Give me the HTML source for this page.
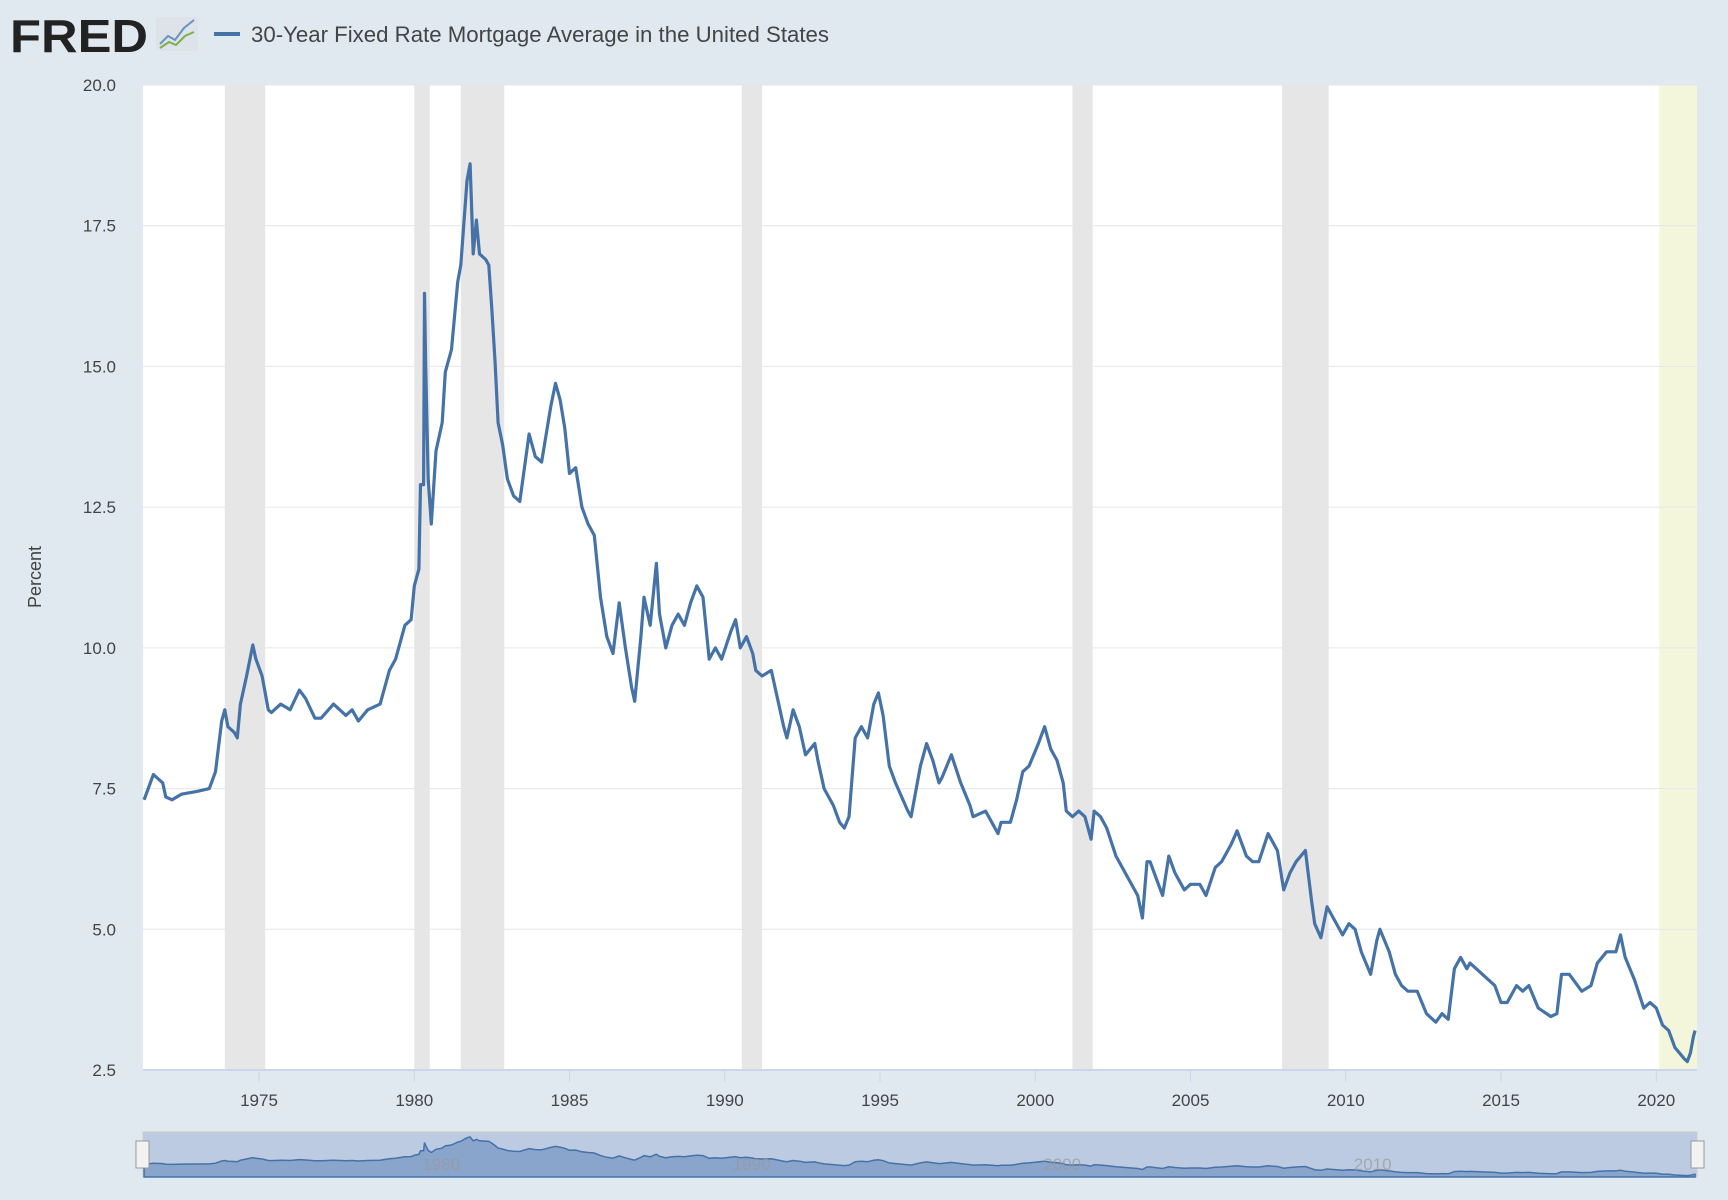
<!DOCTYPE html>
<html><head><meta charset="utf-8"><style>
html,body{margin:0;padding:0;width:1728px;height:1200px;background:#e1e9f0;overflow:hidden;font-family:"Liberation Sans",sans-serif;}
svg{display:block}
</style></head><body>
<svg id="chart" width="1728" height="1200" xmlns="http://www.w3.org/2000/svg">
  <g>
    <text x="10" y="52" font-size="46" font-weight="bold" fill="#222" textLength="138" lengthAdjust="spacingAndGlyphs" font-family="Liberation Sans, sans-serif">FRED</text>
    <rect x="156" y="17" width="42" height="34" rx="3" fill="#dde3e8"/>
    <polyline points="160,44 168,36 175,40 184,28 194,20" fill="none" stroke="#6a93c0" stroke-width="2"/>
    <polyline points="160,48 169,42 176,45 185,36 194,32" fill="none" stroke="#7ab04c" stroke-width="2"/>
  </g>
  <line x1="214" y1="34" x2="240" y2="34" stroke="#4572a7" stroke-width="4"/>
  <text x="251" y="42" font-size="22" fill="#444" textLength="578" lengthAdjust="spacingAndGlyphs">30-Year Fixed Rate Mortgage Average in the United States</text>
  <rect x="143" y="85" width="1554" height="985" fill="#fff"/>
  <g id="rec"></g>
  <g id="grid"></g>
  <g id="xaxis"></g>
  <path id="line" fill="none" stroke="#4572a7" stroke-width="3.2" stroke-linejoin="round"/>
  <text transform="translate(41,577) rotate(-90)" text-anchor="middle" font-size="18" fill="#444">Percent</text>
  <g>
    <rect x="143" y="1132" width="1554" height="45" fill="#bccbe1" stroke="#ccc"/>
    <path id="navarea" fill="#8aa5cc" stroke="#4572a7" stroke-width="1.5"/>
    <g id="navlabels"></g>
    <rect x="136" y="1141" width="13" height="27" fill="#f2f2f2" stroke="#999"/>
    <rect x="1691" y="1141" width="13" height="27" fill="#f2f2f2" stroke="#999"/>
  </g>
</svg>
<script>
const years=[1971.3,1971.5,1971.6,1971.9,1972.0,1972.2,1972.5,1973.0,1973.4,1973.6,1973.8,1973.9,1974.0,1974.2,1974.3,1974.4,1974.6,1974.8,1974.9,1975.1,1975.3,1975.4,1975.7,1976.0,1976.3,1976.5,1976.8,1977.0,1977.4,1977.8,1978.0,1978.2,1978.5,1978.9,1979.2,1979.4,1979.7,1979.9,1980.0,1980.15,1980.2,1980.3,1980.33,1980.37,1980.45,1980.55,1980.7,1980.9,1981.0,1981.2,1981.4,1981.5,1981.7,1981.8,1981.9,1982.0,1982.1,1982.3,1982.4,1982.5,1982.6,1982.7,1982.85,1983.0,1983.2,1983.4,1983.5,1983.7,1983.9,1984.1,1984.4,1984.55,1984.7,1984.85,1985.0,1985.2,1985.4,1985.6,1985.8,1986.0,1986.2,1986.4,1986.6,1986.8,1987.0,1987.1,1987.3,1987.4,1987.6,1987.8,1987.9,1988.1,1988.3,1988.5,1988.7,1988.9,1989.1,1989.3,1989.5,1989.7,1989.9,1990.2,1990.35,1990.5,1990.7,1990.9,1991.0,1991.2,1991.5,1991.7,1991.9,1992.0,1992.2,1992.4,1992.6,1992.9,1993.0,1993.2,1993.5,1993.7,1993.85,1994.0,1994.2,1994.4,1994.6,1994.8,1994.95,1995.1,1995.3,1995.5,1995.9,1996.0,1996.3,1996.5,1996.7,1996.9,1997.0,1997.3,1997.6,1997.9,1998.0,1998.4,1998.8,1998.9,1999.2,1999.4,1999.6,1999.8,2000.1,2000.3,2000.5,2000.7,2000.9,2001.0,2001.2,2001.4,2001.6,2001.8,2001.9,2002.1,2002.3,2002.6,2002.8,2003.0,2003.3,2003.45,2003.6,2003.7,2003.9,2004.1,2004.3,2004.5,2004.8,2005.0,2005.3,2005.5,2005.8,2006.0,2006.3,2006.5,2006.8,2007.0,2007.2,2007.5,2007.8,2008.0,2008.2,2008.4,2008.7,2008.9,2009.0,2009.2,2009.4,2009.6,2009.9,2010.1,2010.3,2010.5,2010.8,2011.0,2011.1,2011.4,2011.6,2011.8,2012.0,2012.3,2012.6,2012.9,2013.1,2013.3,2013.5,2013.7,2013.9,2014.0,2014.4,2014.8,2015.0,2015.2,2015.5,2015.7,2015.9,2016.2,2016.6,2016.8,2016.95,2017.2,2017.6,2017.9,2018.1,2018.4,2018.7,2018.85,2019.0,2019.3,2019.6,2019.8,2020.0,2020.2,2020.4,2020.6,2020.9,2021.0,2021.1,2021.2,2021.25];
const rates=[7.3,7.6,7.75,7.6,7.35,7.3,7.4,7.45,7.5,7.8,8.7,8.9,8.6,8.5,8.4,9.0,9.5,10.05,9.8,9.5,8.9,8.85,9.0,8.9,9.25,9.1,8.75,8.75,9.0,8.8,8.9,8.7,8.9,9.0,9.6,9.8,10.4,10.5,11.1,11.4,12.9,12.9,16.3,15.0,13.0,12.2,13.5,14.0,14.9,15.3,16.5,16.8,18.3,18.6,17.0,17.6,17.0,16.9,16.8,16.0,15.1,14.0,13.6,13.0,12.7,12.6,13.0,13.8,13.4,13.3,14.3,14.7,14.4,13.9,13.1,13.2,12.5,12.2,12.0,10.9,10.2,9.9,10.8,10.0,9.3,9.05,10.2,10.9,10.4,11.5,10.6,10.0,10.4,10.6,10.4,10.8,11.1,10.9,9.8,10.0,9.8,10.3,10.5,10.0,10.2,9.9,9.6,9.5,9.6,9.1,8.6,8.4,8.9,8.6,8.1,8.3,8.0,7.5,7.2,6.9,6.8,7.0,8.4,8.6,8.4,9.0,9.2,8.8,7.9,7.6,7.1,7.0,7.9,8.3,8.0,7.6,7.7,8.1,7.6,7.2,7.0,7.1,6.7,6.9,6.9,7.3,7.8,7.9,8.3,8.6,8.2,8.0,7.6,7.1,7.0,7.1,7.0,6.6,7.1,7.0,6.8,6.3,6.1,5.9,5.6,5.2,6.2,6.2,5.9,5.6,6.3,6.0,5.7,5.8,5.8,5.6,6.1,6.2,6.5,6.75,6.3,6.2,6.2,6.7,6.4,5.7,6.0,6.2,6.4,5.5,5.1,4.85,5.4,5.2,4.9,5.1,5.0,4.6,4.2,4.8,5.0,4.6,4.2,4.0,3.9,3.9,3.5,3.35,3.5,3.4,4.3,4.5,4.3,4.4,4.2,4.0,3.7,3.7,4.0,3.9,4.0,3.6,3.45,3.5,4.2,4.2,3.9,4.0,4.4,4.6,4.6,4.9,4.5,4.1,3.6,3.7,3.6,3.3,3.2,2.9,2.7,2.65,2.8,3.1,3.2];
const yTicks=[2.5,5.0,7.5,10.0,12.5,15.0,17.5,20.0];
const xTicks=[1975,1980,1985,1990,1995,2000,2005,2010,2015,2020];
const navTicks=[1980,1990,2000,2010];
const recStart=[1973.9,1980.0,1981.5,1990.55,2001.2,2007.95,2020.1];
const recEnd=[1975.2,1980.5,1982.9,1991.2,2001.85,2009.45,2020.3];

const NS='http://www.w3.org/2000/svg';
const X=y=>259+(y-1975)*31.05;
const Y=v=>1070-(v-2.5)*(985/17.5);
const NY=v=>1176-(v-2.5)*(40/16.5);
function mk(tag,attrs,parent){const e=document.createElementNS(NS,tag);for(const k in attrs)e.setAttribute(k,attrs[k]);parent.appendChild(e);return e;}

const rec=document.getElementById('rec');
recStart.forEach((s,i)=>{
  const last=i===recStart.length-1;
  const r=mk('rect',{x:X(s),y:85,width:last?1697-X(s):X(recEnd[i])-X(s),height:985,fill:last?'#f4f6dc':'#e6e6e6'},rec);
  
  
});
const grid=document.getElementById('grid');
yTicks.forEach(v=>{
  const l=mk('line',{x1:143,x2:1697,y1:Y(v),y2:Y(v),stroke:v===2.5?'#ccd6eb':'#e6e6e6','stroke-width':v===2.5?2:1},grid);
  
  
  const t=mk('text',{x:116,y:Y(v)+6,'text-anchor':'end','font-size':17,fill:'#444'},grid);
  t.textContent=v.toFixed(1);
  
  
});
const xa=document.getElementById('xaxis');
xTicks.forEach(v=>{
  const l=mk('line',{x1:X(v),x2:X(v),y1:1071,y2:1082,stroke:'#ccd6eb'},xa);
  
  
  const t=mk('text',{x:X(v),y:1106,'text-anchor':'middle','font-size':17,fill:'#444'},xa);
  t.textContent=v;
  
  
});
let d='';years.forEach((y,i)=>{d+=(i?'L':'M')+X(y).toFixed(1)+','+Y(rates[i]).toFixed(1);});
document.getElementById('line').setAttribute('d',d);
let nd='M'+X(years[0])+',1177';years.forEach((y,i)=>{nd+='L'+X(y).toFixed(1)+','+NY(rates[i]).toFixed(1);});
nd+='L'+X(years[years.length-1])+',1177Z';
document.getElementById('navarea').setAttribute('d',nd);
const nl=document.getElementById('navlabels');
navTicks.forEach(v=>{
  const t=mk('text',{x:X(v)+8,y:1170,'font-size':17,fill:'#999','fill-opacity':0.7},nl);
  t.textContent=v;
  
  
});
</script>
</body></html>
